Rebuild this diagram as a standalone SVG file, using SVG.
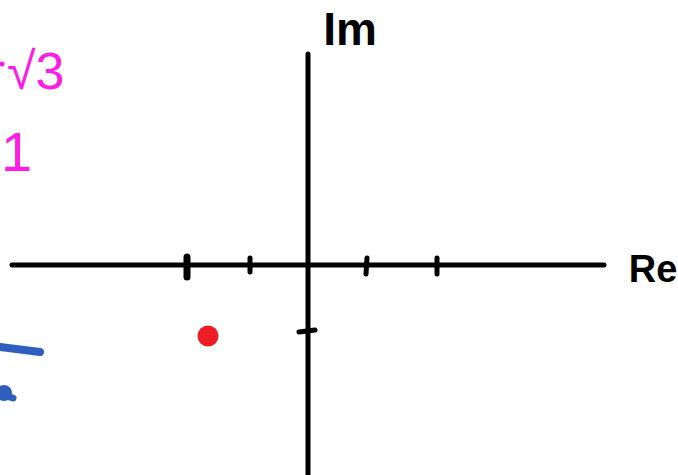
<svg xmlns="http://www.w3.org/2000/svg" width="678" height="475" viewBox="0 0 678 475">
<style>
.ax{stroke:#000;stroke-width:5;stroke-linecap:round;fill:none}
.tk{stroke:#000;stroke-width:5;stroke-linecap:round}
.lbl{font-family:"Liberation Sans",Arial,sans-serif;fill:#000}
.mg{font-family:"Liberation Sans",Arial,sans-serif;fill:#ff1ee6}
.bl{stroke:#2f5fbe;stroke-linecap:round;fill:none}
</style>
<rect width="678" height="475" fill="#fff"/>
<g id="connectors">
<line class="ax" x1="12" y1="265" x2="604" y2="265"/>
<line class="ax" x1="308" y1="54" x2="308" y2="475"/>
<line class="tk" x1="187" y1="257" x2="187" y2="277" style="stroke-width:7"/>
<line class="tk" x1="250" y1="258" x2="250" y2="272"/>
<line class="tk" x1="367" y1="258" x2="366" y2="274"/>
<line class="tk" x1="437" y1="258" x2="437" y2="274"/>
<line class="tk" x1="299" y1="332" x2="315" y2="330"/>
</g>
<g id="im-label"><text class="lbl" x="350" y="45" font-size="46" text-anchor="middle" font-weight="bold">Im</text></g>
<g id="re-label"><text class="lbl" x="653" y="282" font-size="38" text-anchor="middle" font-weight="bold">Re</text></g>
<g id="point"><circle cx="208" cy="336" r="10.5" fill="#ee1c25"/></g>
<g id="magenta">
<circle cx="2" cy="64" r="2.5" fill="#ff1ee6"/>
<text class="mg" x="7" y="89" font-size="52">√3</text>
<text class="mg" x="1" y="171" font-size="56">1</text>
</g>
<g id="blue">
<path class="bl" d="M0 347 L40 352" stroke-width="8"/>
<ellipse cx="4" cy="393" rx="8" ry="8" fill="#2f5fbe"/>
<path class="bl" d="M6 396 L13 398" stroke-width="7"/>
</g>
</svg>
